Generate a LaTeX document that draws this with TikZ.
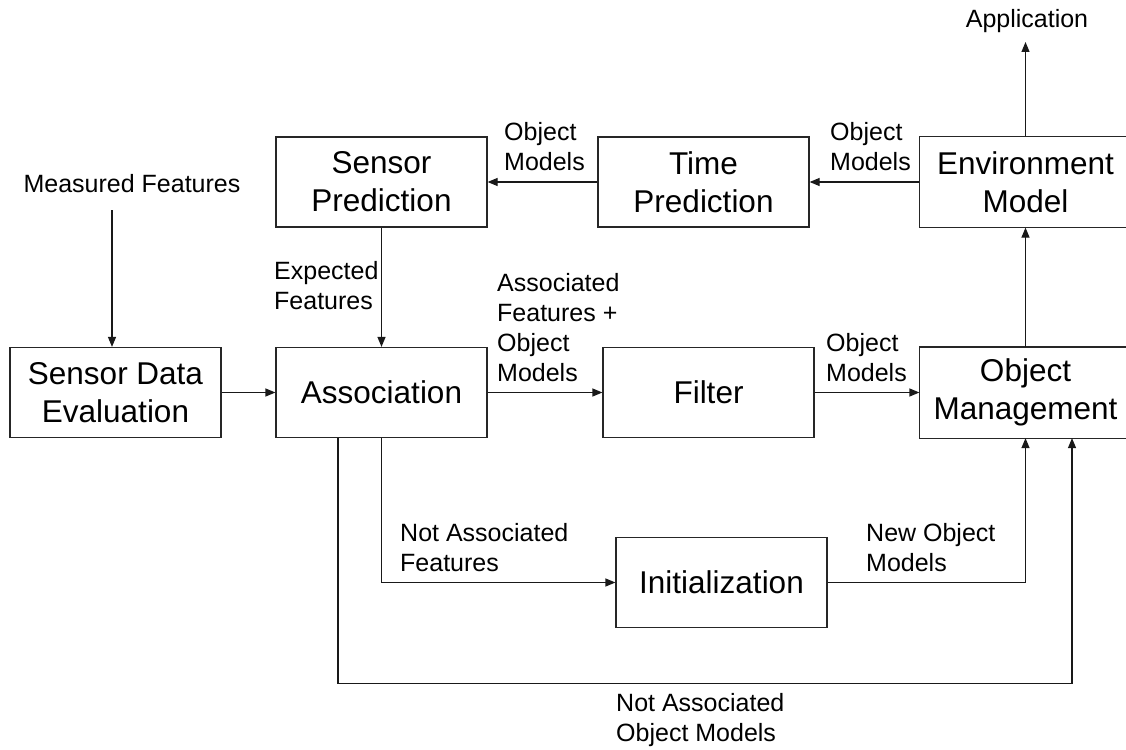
\documentclass[tikz,border=0pt]{standalone}
\usepackage{fontspec}
\setmainfont{Liberation Sans}
\usetikzlibrary{arrows.meta}
\begin{document}
\begin{tikzpicture}[x=1pt,y=-1pt,
  boxline/.style={draw=black!85, line width=1.2pt},
  block/.style={boxline, minimum width=211pt, minimum height=90pt,
    inner sep=0pt, align=center, font=\fontsize{31.5}{38}\selectfont},
  openblock/.style={block, draw=none},
  lbl/.style={inner sep=0pt, align=left, font=\fontsize{25}{30}\selectfont},
  flow/.style={line width=1.2pt, draw=black!90, -{Triangle[length=10pt,width=8pt]}}]
  \useasboundingbox (0,0) rectangle (1126,749);
  \clip (0,0) rectangle (1126,749);

  % processing blocks
  \node[block] (sp) at (381.5,182) {Sensor\\Prediction};
  \node[block] (tp) at (703.5,182) {Time\\Prediction};
  \node[openblock] (em) at (1025.5,182) {Environment\\Model};
  \node[block] (sde) at (115.5,392.5) {Sensor Data\\Evaluation};
  \node[block] (as) at (381.5,392.5) {Association};
  \node[block] (fi) at (708.5,392.5) {Filter};
  \node[openblock] (om) at (1025.5,392.5) {Object\\Management};
  \node[block] (in) at (721.5,582.5) {Initialization};

  % the two right-hand blocks run past the right margin
  \draw[boxline] (em.north west) -- ++(240,0) (em.south west) -- ++(240,0)
                 (em.north west) -- (em.south west);
  \draw[boxline] (om.north west) -- ++(240,0) (om.south west) -- ++(240,0)
                 (om.north west) -- (om.south west);

  % free ends of the input and output arrows
  \node[lbl, align=center] (mf) at (132,184) {Measured Features};
  \coordinate (mfend) at (112,210);
  \node[lbl, align=center] (app) at (1027,21) {Application};
  \coordinate (append) at (1025.5,42);

  % flow labels
  \node[lbl, anchor=west] (l1) at (504,146.5) {Object\\Models};
  \node[lbl, anchor=west] (l2) at (830,147) {Object\\Models};
  \node[lbl, anchor=west] (l3) at (274,286) {Expected\\Features};
  \node[lbl, anchor=west] (l4) at (497,327.5) {Associated\\Features +\\Object\\Models};
  \node[lbl, anchor=west] (l5) at (826,358) {Object\\Models};
  \node[lbl, anchor=west] (l6) at (400,547.5) {Not Associated\\Features};
  \node[lbl, anchor=west] (l7) at (866,547.5) {New Object\\Models};
  \node[lbl, anchor=west] (l8) at (616,720.5) {Not Associated\\Object Models};

  % connectors
  \draw[flow] (mfend) -- (mfend |- sde.north);
  \draw[flow] (em.north) -- (append);
  \draw[flow] (em.west) -- (tp.east);
  \draw[flow] (tp.west) -- (sp.east);
  \draw[flow] (sp.south) -- (as.north);
  \draw[flow] (sde.east) -- (as.west);
  \draw[flow] (as.east) -- (fi.west);
  \draw[flow] (fi.east) -- (om.west);
  \draw[flow] (om.north) -- (em.south);
  \draw[flow] (as.south) |- (in.west);
  \draw[flow] (in.east) -| (om.south);
  \draw[flow] ([xshift=-43.5pt]as.south) -- ++(0,245) -| ([xshift=46.5pt]om.south);
\end{tikzpicture}
\end{document}
